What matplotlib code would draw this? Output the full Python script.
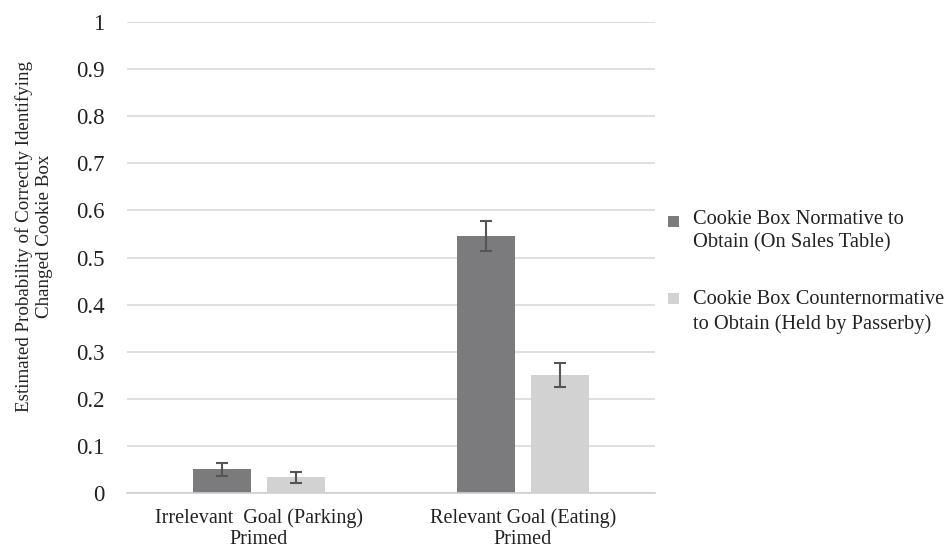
import matplotlib
matplotlib.use("Agg")
import matplotlib.pyplot as plt
import numpy as np
from matplotlib.patches import Rectangle

plt.rcParams['font.family'] = ['Liberation Serif', 'DejaVu Serif']

categories = ["Irrelevant  Goal (Parking)\nPrimed", "Relevant Goal (Eating)\nPrimed"]
series_names = ["Cookie Box Normative to\nObtain (On Sales Table)",
                "Cookie Box Counternormative\nto Obtain (Held by Passerby)"]
normative = [0.050, 0.546]
normative_err = [0.013, 0.032]
counter = [0.033, 0.251]
counter_err = [0.011, 0.026]
yticks = [0, 0.1, 0.2, 0.3, 0.4, 0.5, 0.6, 0.7, 0.8, 0.9, 1]
ytick_labels = ["0", "0.1", "0.2", "0.3", "0.4", "0.5", "0.6", "0.7", "0.8", "0.9", "1"]

colors = ["#7b7b7d", "#d2d2d2"]
text_color = "#222222"

W, H = 948, 548
fig = plt.figure(figsize=(W / 100, H / 100), dpi=100)
ax = fig.add_axes([127 / W, 55 / H, 528 / W, 471 / H])

x = np.arange(len(categories))
w = 0.22
off = 0.14
ax.bar(x - off, normative, w, color=colors[0], zorder=3)
ax.bar(x + off, counter, w, color=colors[1], zorder=3)
ax.errorbar(x - off, normative, yerr=normative_err, fmt='none', ecolor="#555555",
            elinewidth=1.5, capsize=4, capthick=1.5, zorder=4)
ax.errorbar(x + off, counter, yerr=counter_err, fmt='none', ecolor="#555555",
            elinewidth=1.5, capsize=4, capthick=1.5, zorder=4)

ax.set_xlim(-0.5, 1.5)
ax.set_ylim(0, 1)
ax.set_yticks(yticks)
ax.set_yticklabels(ytick_labels, fontsize=16.5, color=text_color)
ax.set_xticks(x)
ax.set_xticklabels(categories, fontsize=14.5, color=text_color, linespacing=1.12)
ax.tick_params(axis='y', length=0, pad=16)
ax.tick_params(axis='x', length=0, pad=11)
ax.yaxis.grid(True, color="#d9d9d9", linewidth=1.2, zorder=0)
for s in ["top", "right", "left"]:
    ax.spines[s].set_visible(False)
ax.spines["bottom"].set_color("#d0d0d0")
ax.spines["bottom"].set_linewidth(1.2)
ax.spines["bottom"].set_zorder(5)

fig.text(34 / W, 1 - 236 / H,
         "Estimated Probability of Correctly Identifying\nChanged Cookie Box",
         rotation=90, ha='center', va='center', multialignment='center',
         fontsize=13.7, color=text_color, linespacing=1.18)

# legend drawn manually (Excel style: square aligned with first text line)
leg_text_x = 693
leg_text_centers = [231, 312]
leg_square_centers = [221, 298]
sq = 11
for name, c, tc, sc in zip(series_names, colors, leg_text_centers, leg_square_centers):
    fig.text(leg_text_x / W, 1 - tc / H, name, ha='left', va='center',
             fontsize=14.7, color=text_color, linespacing=1.3)
    fig.add_artist(Rectangle(((673 - sq / 2) / W, (H - sc - sq / 2) / H), sq / W, sq / H,
                             transform=fig.transFigure, facecolor=c, edgecolor='none'))

fig.savefig("out.png", dpi=100)
